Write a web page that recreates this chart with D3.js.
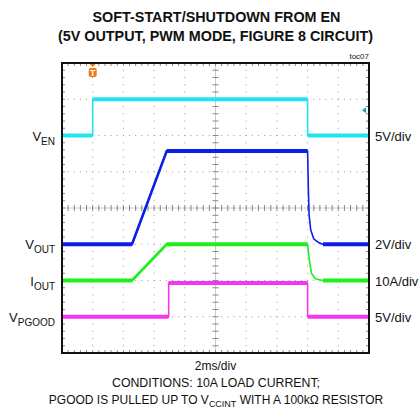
<!DOCTYPE html>
<html>
<head>
    <style>
        body { margin: 0; background: #fff; }
        text { font-family: "Liberation Sans", Arial, sans-serif; fill: #111; }
    </style>
    <script src="https://d3js.org/d3.v7.min.js"></script>
</head>
<body>
    <svg width="419" height="408"></svg>
    <script>
        // scope traces: time in ms, level in divisions (0 = screen centre)
        var enTime   = [0, 2, 2, 16, 16, 20];
        var enLevel  = [2, 2, 3, 3, 2, 2];
        var voutTime  = [0, 4.56, 6.82, 16, 16.05, 16.1, 16.2, 16.4, 16.7, 17, 20];
        var voutLevel = [-1, -1, 1.57, 1.57, 0.5, -0.2, -0.6, -0.85, -0.95, -1, -1];
        var ioutTime  = [0, 4.56, 6.82, 16, 16.1, 16.25, 16.5, 17, 20];
        var ioutLevel = [-2, -2, -1, -1, -1.4, -1.8, -1.95, -2, -2];
        var pgTime  = [0, 6.95, 6.95, 16, 16, 20];
        var pgLevel = [-3, -3, -2.07, -2.07, -3, -3];

        var traceNames  = ["EN", "OUT", "OUT", "PGOOD"];
        var traceMain   = ["V", "V", "I", "V"];
        var traceScales = ["5V/div", "2V/div", "10A/div", "5V/div"];
        var traceColors = ["#22e4ef", "#0c1ee8", "#1fee1f", "#f535f0"];

        var svg = d3.select("svg");
        var pL = 62, pR = 369, pT = 63, pB = 353;

        var x = d3.scaleLinear().domain([0, 20]).range([pL, pR]);
        var y = d3.scaleLinear().domain([-4, 4]).range([pB, pT]);

        // titles
        svg.append("text").attr("x", 216.5).attr("y", 22).attr("text-anchor", "middle")
           .attr("font-weight", "bold").attr("font-size", 15)
           .attr("textLength", 248).attr("lengthAdjust", "spacingAndGlyphs")
           .text("SOFT-START/SHUTDOWN FROM EN");
        svg.append("text").attr("x", 215.5).attr("y", 41).attr("text-anchor", "middle")
           .attr("font-weight", "bold").attr("font-size", 15)
           .attr("textLength", 315).attr("lengthAdjust", "spacingAndGlyphs")
           .text("(5V OUTPUT, PWM MODE, FIGURE 8 CIRCUIT)");
        svg.append("text").attr("x", 369).attr("y", 59).attr("text-anchor", "end")
           .attr("font-size", 8).text("toc07");

        var grid = svg.append("g");

        // dotted major grid
        var minor = d3.range(0, 20.001, 0.4);
        var minorY = d3.range(-4, 4.001, 0.2);
        d3.range(2, 20, 2).forEach(function(t) {
            grid.selectAll(null).data(minorY).enter().append("rect")
                .attr("x", x(t) - 0.5).attr("y", function(d) { return y(d) - 0.5; })
                .attr("width", 1).attr("height", 1).attr("fill", "#999");
        });
        d3.range(-3, 4, 1).forEach(function(v) {
            grid.selectAll(null).data(minor).enter().append("rect")
                .attr("x", function(d) { return x(d) - 0.5; }).attr("y", y(v) - 0.5)
                .attr("width", 1).attr("height", 1).attr("fill", "#999");
        });

        // centre crosshair with minor ticks
        grid.append("line").attr("x1", pL).attr("x2", pR).attr("y1", y(0)).attr("y2", y(0))
            .attr("stroke", "#ccc").attr("stroke-width", 1);
        grid.append("line").attr("x1", x(10)).attr("x2", x(10)).attr("y1", pT).attr("y2", pB)
            .attr("stroke", "#ccc").attr("stroke-width", 1);
        grid.selectAll(null).data(minor).enter().append("line")
            .attr("x1", function(d) { return x(d); }).attr("x2", function(d) { return x(d); })
            .attr("y1", y(0) - 3).attr("y2", y(0) + 3).attr("stroke", "#888");
        grid.selectAll(null).data(minorY).enter().append("line")
            .attr("y1", function(d) { return y(d); }).attr("y2", function(d) { return y(d); })
            .attr("x1", x(10) - 3).attr("x2", x(10) + 3).attr("stroke", "#888");

        // edge ticks
        grid.selectAll(null).data(minor).enter().append("line")
            .attr("x1", function(d) { return x(d); }).attr("x2", function(d) { return x(d); })
            .attr("y1", pT).attr("y2", pT + 3).attr("stroke", "#888");
        grid.selectAll(null).data(minor).enter().append("line")
            .attr("x1", function(d) { return x(d); }).attr("x2", function(d) { return x(d); })
            .attr("y1", pB - 3).attr("y2", pB).attr("stroke", "#888");
        grid.selectAll(null).data(minorY).enter().append("line")
            .attr("y1", function(d) { return y(d); }).attr("y2", function(d) { return y(d); })
            .attr("x1", pL).attr("x2", pL + 3).attr("stroke", "#888");
        grid.selectAll(null).data(minorY).enter().append("line")
            .attr("y1", function(d) { return y(d); }).attr("y2", function(d) { return y(d); })
            .attr("x1", pR - 3).attr("x2", pR).attr("stroke", "#888");

        // traces: thin edges, thicker ramps, thick flat portions
        var line = d3.line().x(function(d) { return x(d[0]); }).y(function(d) { return y(d[1]); });
        var traces = [
            d3.zip(enTime, enLevel),
            d3.zip(voutTime, voutLevel),
            d3.zip(ioutTime, ioutLevel),
            d3.zip(pgTime, pgLevel)
        ];
        var baseLevels = [enLevel[enLevel.length - 1], voutLevel[voutLevel.length - 1],
                          ioutLevel[ioutLevel.length - 1], pgLevel[pgLevel.length - 1]];

        traces.forEach(function(tr, i) {
            svg.append("path").attr("d", line(tr)).attr("fill", "none")
               .attr("stroke", traceColors[i]).attr("stroke-width", 1.6)
               .attr("stroke-linejoin", "round");
            d3.pairs(tr).forEach(function(p) {
                var dt = p[1][0] - p[0][0];
                if (p[0][1] === p[1][1] && dt > 0) {
                    svg.append("path").attr("d", line(p)).attr("fill", "none")
                       .attr("stroke", traceColors[i]).attr("stroke-width", 4);
                } else if (dt > 1) {
                    svg.append("path").attr("d", line(p)).attr("fill", "none")
                       .attr("stroke", traceColors[i]).attr("stroke-width", 2.6)
                       .attr("stroke-linecap", "round");
                }
            });
        });

        // frame
        svg.append("rect").attr("x", pL).attr("y", pT).attr("width", pR - pL)
           .attr("height", pB - pT).attr("fill", "none").attr("stroke", "#111").attr("stroke-width", 2);

        // trigger marker
        var tx = x(enTime[1]);
        svg.append("path").attr("d", "M" + (tx - 3) + "," + (pT + 1) + "L" + (tx + 3) + "," + (pT + 1) + "L" + tx + "," + (pT + 4) + "Z")
           .attr("fill", "#f07810");
        svg.append("rect").attr("x", tx - 4).attr("y", pT + 5).attr("width", 8).attr("height", 9)
           .attr("rx", 2).attr("fill", "#f07810");
        svg.append("text").attr("x", tx).attr("y", pT + 13).attr("text-anchor", "middle")
           .attr("font-size", 9).attr("font-weight", "bold").style("fill", "#fff").text("T");

        // trigger level arrow
        var ay = y(2.7);
        svg.append("path").attr("d", "M" + (pR - 7) + "," + ay + "L" + (pR - 3) + "," + (ay - 3) + "L" + (pR - 3) + "," + (ay + 3) + "Z")
           .attr("fill", "#1aa8a8");

        // channel labels
        baseLevels.forEach(function(lv, i) {
            var t = svg.append("text").attr("x", 55).attr("y", y(lv) + 5)
                .attr("text-anchor", "end").attr("font-size", 13);
            t.append("tspan").text(traceMain[i]);
            t.append("tspan").attr("dy", 4).attr("font-size", 10).text(traceNames[i]);
            svg.append("text").attr("x", 375).attr("y", y(lv) + 5)
               .attr("font-size", 13).text(traceScales[i]);
        });

        // bottom captions
        svg.append("text").attr("x", 215.5).attr("y", 370).attr("text-anchor", "middle")
           .attr("font-size", 12).text("2ms/div");
        svg.append("text").attr("x", 216).attr("y", 387).attr("text-anchor", "middle")
           .attr("font-size", 12).attr("textLength", 208).attr("lengthAdjust", "spacingAndGlyphs")
           .text("CONDITIONS: 10A LOAD CURRENT;");
        var c3 = svg.append("text").attr("x", 216).attr("y", 404).attr("text-anchor", "middle")
           .attr("font-size", 12);
        c3.append("tspan").text("PGOOD IS PULLED UP TO V");
        c3.append("tspan").attr("dy", 3).attr("font-size", 9).text("CCINT");
        c3.append("tspan").attr("dy", -3).text(" WITH A 100k\u03A9 RESISTOR");
    </script>
</body>
</html>
